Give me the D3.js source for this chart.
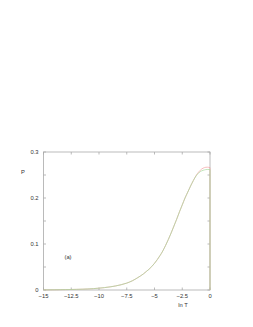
<!DOCTYPE html>
<html>
<head>
<meta charset="utf-8">
<script src="https://cdn.jsdelivr.net/npm/d3@7"></script>
<style>
  body { margin: 0; background: #fff; }
  text { font-family: "Liberation Sans", Arial, sans-serif; fill: #333; }
</style>
</head>
<body>
<svg id="chart" width="253" height="327"></svg>
<script>
// ln T grid and P values
const lnT = [-15, -14.5, -14, -13.5, -13, -12.5, -12, -11.5, -11, -10.5, -10, -9.5, -9, -8.5, -8, -7.5, -7, -6.5,
  -6, -5.75, -5.5, -5.25, -5, -4.75, -4.5, -4.25, -4, -3.75, -3.5, -3.25, -3, -2.75, -2.5, -2.25, -2, -1.75, -1.5, -1.25, -1, -0.75, -0.5, -0.25, 0]
const pRed = [0.0003, 0.0004, 0.0005, 0.0007, 0.0009, 0.0011, 0.0014, 0.0018, 0.0023, 0.003, 0.004, 0.0052, 0.0068, 0.0088, 0.0115, 0.015, 0.02, 0.027,
  0.035, 0.04, 0.045, 0.051, 0.058, 0.066, 0.075, 0.085, 0.097, 0.11, 0.124, 0.139, 0.154, 0.17, 0.185, 0.2, 0.213, 0.226, 0.238, 0.249, 0.257, 0.263, 0.266, 0.267, 0.266]
const pGreen = [0.0003, 0.0004, 0.0005, 0.0007, 0.0009, 0.0011, 0.0014, 0.0018, 0.0023, 0.003, 0.004, 0.0052, 0.0068, 0.0088, 0.0115, 0.015, 0.02, 0.027,
  0.035, 0.04, 0.045, 0.051, 0.058, 0.066, 0.075, 0.085, 0.097, 0.11, 0.124, 0.139, 0.154, 0.17, 0.185, 0.2, 0.213, 0.226, 0.238, 0.248, 0.255, 0.259, 0.261, 0.262, 0.262]
const xTicks = [-15, -12.5, -10, -7.5, -5, -2.5, 0]
const yTicks = [0, 0.1, 0.2, 0.3]
const yMinor = [0.05, 0.15, 0.25]

const svg = d3.select("#chart")
const mLeft = 43.5, mRight = 210, mTop = 152, mBottom = 290

const x = d3.scaleLinear().domain([-15, 0]).range([mLeft, mRight])
const y = d3.scaleLinear().domain([0, 0.3]).range([mBottom, mTop])

//frame
svg.append("rect")
  .attr("x", mLeft).attr("y", mTop)
  .attr("width", mRight - mLeft).attr("height", mBottom - mTop)
  .style("fill", "none").style("stroke", "#aaa").style("stroke-width", 0.8)

const tickLen = 2.5
const tickStyle = sel => sel.style("stroke", "#aaa").style("stroke-width", 0.8)

//ticks, mirrored on all four sides
xTicks.forEach(t => {
  svg.append("line").attr("x1", x(t)).attr("x2", x(t)).attr("y1", mBottom).attr("y2", mBottom - tickLen).call(tickStyle)
  svg.append("line").attr("x1", x(t)).attr("x2", x(t)).attr("y1", mTop).attr("y2", mTop + tickLen).call(tickStyle)
  svg.append("text").attr("x", x(t)).attr("y", mBottom + 8)
    .attr("text-anchor", "middle").style("font-size", "5.8px")
    .text(t === 0 ? "0" : "\u2212" + Math.abs(t))
})
yTicks.concat(yMinor).forEach(t => {
  svg.append("line").attr("x1", mLeft).attr("x2", mLeft + tickLen).attr("y1", y(t)).attr("y2", y(t)).call(tickStyle)
  svg.append("line").attr("x1", mRight).attr("x2", mRight - tickLen).attr("y1", y(t)).attr("y2", y(t)).call(tickStyle)
})
yTicks.forEach(t => {
  svg.append("text").attr("x", mLeft - 5).attr("y", y(t) + 2)
    .attr("text-anchor", "end").style("font-size", "5.8px")
    .text(t === 0 ? "0" : t)
})

svg.append("text").attr("x", 183).attr("y", 307).attr("text-anchor", "middle")
  .style("font-size", "5.8px").text("ln T")
svg.append("text").attr("x", 23).attr("y", 174).attr("text-anchor", "middle")
  .style("font-size", "5.8px").text("P")
svg.append("text").attr("x", 68).attr("y", 259).attr("text-anchor", "middle")
  .style("font-size", "5.8px").text("(a)")

//histogram curves, dropping to zero at the last bin edge
const series = [
  { vals: pRed, color: "#f2a0a0" },
  { vals: pGreen, color: "#a6d89c" }
]
series.forEach(s => {
  const pts = lnT.map((v, i) => [v, s.vals[i]])
  const line = d3.line().x(d => x(d[0])).y(d => y(d[1])).curve(d3.curveMonotoneX)
  svg.append("path")
    .datum(pts)
    .attr("d", line)
    .style("fill", "none")
    .style("stroke", s.color)
    .style("stroke-width", 0.7)
  svg.append("line")
    .attr("x1", x(0)).attr("x2", x(0))
    .attr("y1", y(s.vals[s.vals.length - 1])).attr("y2", y(0))
    .style("stroke", s.color).style("stroke-width", 0.7)
})
</script>
</body>
</html>
